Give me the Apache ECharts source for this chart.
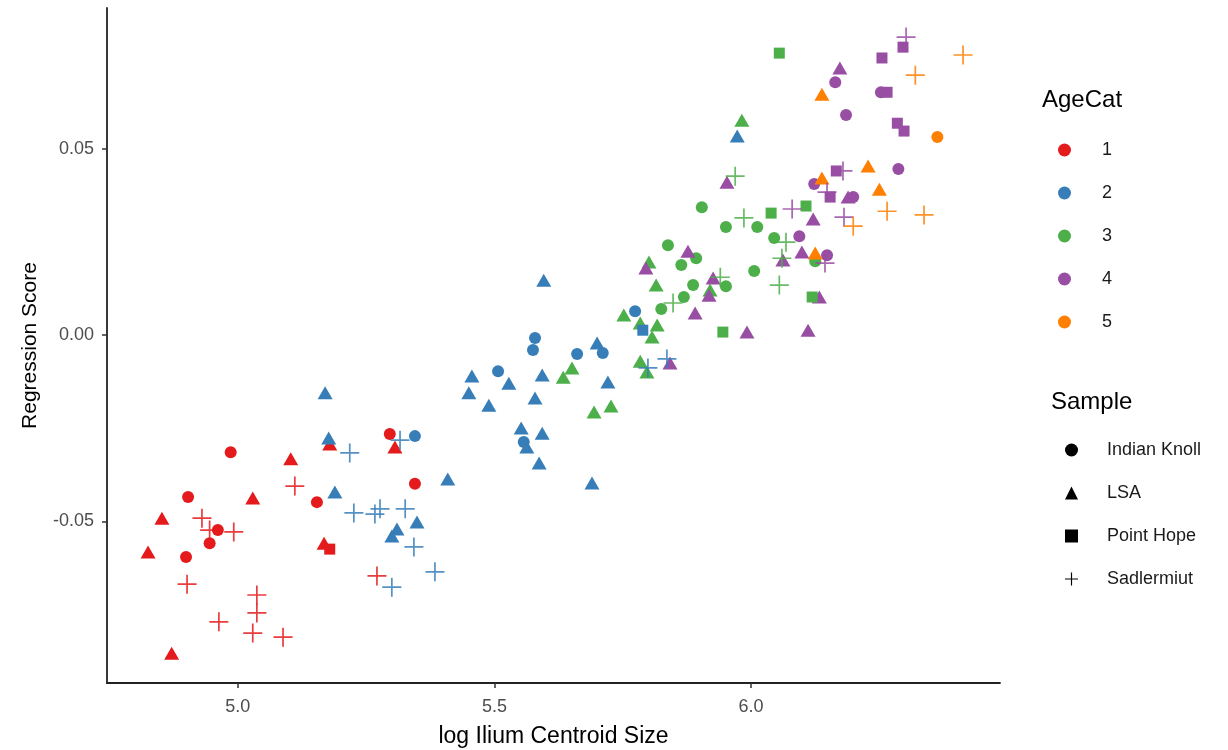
<!DOCTYPE html>
<html>
<head>
<meta charset="utf-8">
<script src="https://cdn.jsdelivr.net/npm/echarts@6/dist/echarts.min.js"></script>
<style>
  html, body { margin: 0; padding: 0; background: #fff; }
  #container { width: 1228px; height: 750px; }
</style>
</head>
<body>
<div id="container"></div>
<script>
// AgeCat colours and sample names
var ageCats = ['1', '2', '3', '4', '5'];
var ageColors = ['#E41A1C', '#377EB8', '#4DAF4A', '#984EA3', '#FF7F00'];
var samples = ['Indian Knoll', 'LSA', 'Point Hope', 'Sadlermiut'];
var xTicks = [5.0, 5.5, 6.0];
var yTicks = [-0.05, 0.00, 0.05];

// points [logSize, score], one list per AgeCat x Sample
var age1Knoll = [[4.986,-0.0314],[4.903,-0.0434],[4.961,-0.0523],[4.945,-0.0558],[4.899,-0.0595],[5.154,-0.0448],[5.296,-0.0265],[5.345,-0.0399]];
var age1Lsa = [[5.179,-0.0292],[5.103,-0.0332],[5.029,-0.0437],[4.852,-0.0491],[4.825,-0.0582],[5.168,-0.0558],[4.871,-0.0853],[5.306,-0.0300]];
var age1Hope = [[5.179,-0.0574]];
var age1Sadl = [[5.111,-0.0405],[4.930,-0.0491],[4.945,-0.0523],[4.992,-0.0528],[4.901,-0.0668],[5.037,-0.0697],[5.037,-0.0745],[4.963,-0.0769],[5.029,-0.0799],[5.088,-0.0810],[5.271,-0.0646]];

var age2Knoll = [[5.345,-0.0271],[5.507,-0.0097],[5.579,-0.0008],[5.575,-0.0040],[5.661,-0.0051],[5.711,-0.0048],[5.774,0.0064],[5.557,-0.0287]];
var age2Lsa = [[5.170,-0.0155],[5.177,-0.0276],[5.189,-0.0421],[5.409,-0.0386],[5.456,-0.0110],[5.450,-0.0155],[5.489,-0.0188],[5.349,-0.0501],[5.310,-0.0520],[5.300,-0.0539],[5.596,0.0147],[5.700,-0.0021],[5.528,-0.0129],[5.593,-0.0107],[5.721,-0.0126],[5.579,-0.0169],[5.552,-0.0249],[5.593,-0.0263],[5.563,-0.0300],[5.587,-0.0343],[5.690,-0.0397],[5.973,0.0534]];
var age2Hope = [[5.789,0.0013]];
var age2Sadl = [[5.218,-0.0316],[5.226,-0.0477],[5.267,-0.0480],[5.277,-0.0466],[5.326,-0.0466],[5.343,-0.0568],[5.384,-0.0635],[5.300,-0.0676],[5.316,-0.0282],[5.799,-0.0088],[5.836,-0.0064]];

var age3Knoll = [[5.825,0.0070],[5.904,0.0343],[5.951,0.0290],[6.012,0.0290],[5.838,0.0241],[5.893,0.0206],[5.864,0.0188],[6.006,0.0172],[5.887,0.0134],[5.951,0.0131],[5.869,0.0102],[6.045,0.0260],[6.125,0.0198]];
var age3Lsa = [[5.982,0.0576],[5.801,0.0196],[5.815,0.0134],[5.920,0.0121],[5.752,0.0054],[5.784,0.0032],[5.817,0.0027],[5.807,-0.0005],[5.784,-0.0070],[5.797,-0.0099],[5.651,-0.0088],[5.634,-0.0113],[5.727,-0.0190],[5.694,-0.0206]];
var age3Hope = [[6.055,0.0756],[6.039,0.0327],[6.107,0.0346],[5.945,0.0008],[6.119,0.0102]];
var age3Sadl = [[5.969,0.0426],[5.986,0.0314],[5.848,0.0086],[5.940,0.0155],[6.068,0.0249],[6.060,0.0206],[6.055,0.0134]];

var age4Knoll = [[6.094,0.0265],[6.164,0.0678],[6.185,0.0590],[6.253,0.0651],[6.287,0.0445],[6.123,0.0405],[6.199,0.0370],[6.148,0.0214]];
var age4Lsa = [[5.795,0.0180],[5.877,0.0225],[5.953,0.0410],[5.926,0.0153],[5.918,0.0107],[5.891,0.0059],[5.992,0.0008],[5.842,-0.0075],[6.173,0.0716],[6.189,0.0370],[6.121,0.0311],[6.062,0.0201],[6.099,0.0223],[6.133,0.0102],[6.111,0.0013]];
var age4Hope = [[6.296,0.0772],[6.255,0.0743],[6.285,0.0568],[6.298,0.0547],[6.166,0.0440],[6.154,0.0370],[6.265,0.0651]];
var age4Sadl = [[6.302,0.0799],[6.179,0.0440],[6.148,0.0383],[6.080,0.0338],[6.181,0.0316],[6.144,0.0193]];

var age5Knoll = [[6.363,0.0531]];
var age5Lsa = [[6.138,0.0646],[6.228,0.0453],[6.138,0.0421],[6.250,0.0391],[6.125,0.0220]];
var age5Hope = [];
var age5Sadl = [[6.413,0.0751],[6.320,0.0697],[6.265,0.0332],[6.337,0.0322],[6.199,0.0292]];

var groups = [
  [age1Knoll, age1Lsa, age1Hope, age1Sadl],
  [age2Knoll, age2Lsa, age2Hope, age2Sadl],
  [age3Knoll, age3Lsa, age3Hope, age3Sadl],
  [age4Knoll, age4Lsa, age4Hope, age4Sadl],
  [age5Knoll, age5Lsa, age5Hope, age5Sadl]
];

var plusPath = 'path://M0,9.1L20,9.1L20,10.9L0,10.9Z M9.1,0L10.9,0L10.9,20L9.1,20Z';
var shapeSymbols = ['circle', 'triangle', 'rect', plusPath];
var shapeSizes = [12, [15, 13], 11, 19];

var fontFam = 'Liberation Sans, Arial, sans-serif';

var dom = document.getElementById('container');
var myChart = echarts.init(dom, null, { renderer: 'canvas' });

var series = [];
for (var a = 0; a < ageCats.length; a++) {
  for (var s = 0; s < samples.length; s++) {
    series.push({
      type: 'scatter',
      name: ageCats[a],
      data: groups[a][s],
      symbol: shapeSymbols[s],
      symbolSize: shapeSizes[s],
      itemStyle: { color: ageColors[a], opacity: s === 3 ? 0.85 : 1 },
      emphasis: { disabled: true },
      z: 2 + s
    });
  }
}
// empty series only for the black Sample legend
for (var k = 0; k < samples.length; k++) {
  series.push({
    type: 'scatter',
    name: samples[k],
    data: [],
    symbol: shapeSymbols[k],
    itemStyle: { color: '#000', opacity: 1 }
  });
}

var option = {
  animation: false,
  backgroundColor: '#fff',
  textStyle: { fontFamily: fontFam },
  grid: { left: 107, right: 228, top: 8, bottom: 67, containLabel: false, outerBoundsMode: 'none' },
  xAxis: {
    type: 'value',
    min: 4.745,
    max: 6.485,
    name: 'log Ilium Centroid Size',
    nameLocation: 'middle',
    nameGap: 42,
    nameTextStyle: { fontSize: 23, color: '#000', fontFamily: fontFam },
    axisLine: { show: true, onZero: false, lineStyle: { color: '#222', width: 1.8 } },
    axisTick: { show: true, length: 5, customValues: xTicks, lineStyle: { color: '#333', width: 1.5 } },
    axisLabel: {
      customValues: xTicks,
      margin: 15,
      fontSize: 18,
      color: '#4D4D4D',
      fontFamily: fontFam,
      formatter: function (v) { return v.toFixed(1); }
    },
    splitLine: { show: false }
  },
  yAxis: {
    type: 'value',
    min: -0.0933,
    max: 0.0877,
    name: 'Regression Score',
    nameLocation: 'middle',
    nameGap: 66,
    nameTextStyle: { fontSize: 21, color: '#000', fontFamily: fontFam },
    axisLine: { show: true, onZero: false, lineStyle: { color: '#222', width: 1.8 } },
    axisTick: { show: true, length: 5, customValues: yTicks, lineStyle: { color: '#333', width: 1.5 } },
    axisLabel: {
      customValues: yTicks,
      margin: 13,
      fontSize: 18,
      color: '#4D4D4D',
      fontFamily: fontFam,
      formatter: function (v) { return v.toFixed(2); }
    },
    splitLine: { show: false }
  },
  legend: [
    {
      orient: 'vertical',
      left: 1058,
      top: 141,
      padding: 0,
      itemWidth: 13,
      itemHeight: 13,
      itemGap: 25,
      selectedMode: false,
      textStyle: { fontSize: 18, color: '#1a1a1a', fontFamily: fontFam, padding: [0, 0, 0, 26] },
      data: ageCats.map(function (n) { return { name: n, icon: 'circle' }; })
    },
    {
      orient: 'vertical',
      left: 1065,
      top: 441,
      padding: 0,
      itemWidth: 13,
      itemHeight: 13,
      itemGap: 25,
      selectedMode: false,
      textStyle: { fontSize: 18, color: '#1a1a1a', fontFamily: fontFam, padding: [0, 0, 0, 24] },
      data: samples.map(function (n, i) { return { name: n, icon: i === 3 ? plusPath : shapeSymbols[i] }; })
    }
  ],
  graphic: [
    { type: 'text', left: 1042, top: 88, style: { text: 'AgeCat', fontSize: 24, fill: '#000', font: '24px ' + fontFam } },
    { type: 'text', left: 1051, top: 390, style: { text: 'Sample', fontSize: 24, fill: '#000', font: '24px ' + fontFam } }
  ],
  series: series
};

myChart.setOption(option);
window.addEventListener('resize', function () {
  myChart.resize();
});
</script>
</body>
</html>
